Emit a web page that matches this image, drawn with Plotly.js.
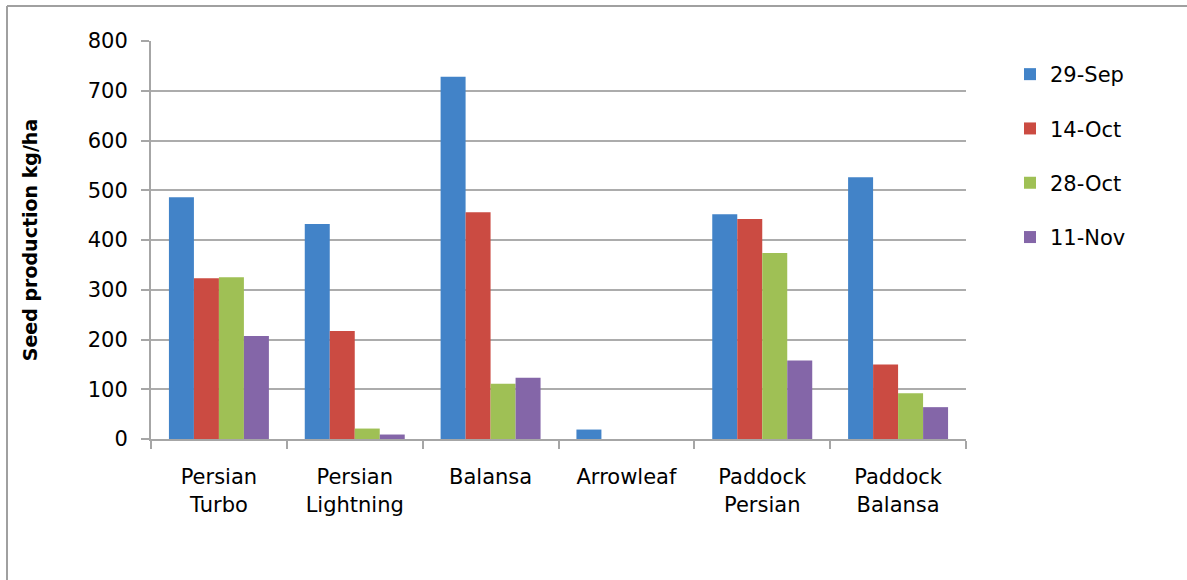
<!DOCTYPE html>
<html>
<head>
<meta charset="utf-8">
<script src="https://cdn.plot.ly/plotly-3.0.1.min.js"></script>
<style>
html,body{margin:0;padding:0;background:#fff;}
#chart{width:1187px;height:580px;}
</style>
</head>
<body>
<div id="chart"></div>
<script>
const categories = ["Persian<br>Turbo", "Persian<br>Lightning", "Balansa", "Arrowleaf", "Paddock<br>Persian", "Paddock<br>Balansa"];
const seriesNames = ["29-Sep", "14-Oct", "28-Oct", "11-Nov"];
const sep29 = [486, 432, 728, 19, 452, 526];
const oct14 = [323, 217, 456, 0, 442, 150];
const oct28 = [325, 21, 111, 0, 374, 92];
const nov11 = [207, 9, 123, 0, 158, 64];
const colors = ["#4283c8", "#cb4b42", "#9fc055", "#8466a8"];

const seriesValues = [sep29, oct14, oct28, nov11];
const traces = seriesValues.map((vals, i) => ({
  type: "bar",
  name: seriesNames[i],
  x: categories,
  y: vals,
  legendgroup: "g" + i,
  marker: {color: colors[i], line: {width: 0}},
  hoverinfo: "x+y+name"
}));

const fontFam = "'DejaVu Sans', 'Liberation Sans', sans-serif";
const L = 151, R = 221, T = 41, B = 141;
const PW = 1187 - L - R, PH = 580 - T - B;
const layout = {
  width: 1187,
  height: 580,
  margin: {l: L, r: R, t: T, b: B},
  paper_bgcolor: "#ffffff",
  plot_bgcolor: "#ffffff",
  barmode: "group",
  bargap: 0.264,
  bargroupgap: 0,
  font: {family: fontFam, size: 21, color: "#000000"},
  xaxis: {
    type: "category",
    showline: true,
    linecolor: "#a6a6a6",
    linewidth: 2,
    ticks: "outside",
    tickson: "boundaries",
    ticklen: 8,
    tickwidth: 2,
    tickcolor: "#a6a6a6",
    ticklabelstandoff: 18,
    tickfont: {family: fontFam, size: 21, color: "#000"},
    showgrid: false,
    fixedrange: true
  },
  yaxis: {
    range: [0, 800],
    dtick: 100,
    showline: true,
    linecolor: "#a6a6a6",
    linewidth: 2,
    ticks: "outside",
    ticklen: 8,
    tickwidth: 2,
    tickcolor: "#a6a6a6",
    ticklabelstandoff: 9,
    showgrid: true,
    gridcolor: "#acacac",
    gridwidth: 2,
    zeroline: false,
    tickfont: {family: fontFam, size: 21, color: "#000"},
    title: {text: "<b>Seed production kg/ha</b>", font: {family: fontFam, size: 19, color: "#000"}, standoff: 45},
    fixedrange: true
  },
  legend: {
    x: (1010 - L) / PW,
    y: (580 - B - 54) / PH,
    xanchor: "left",
    yanchor: "top",
    traceorder: "grouped",
    tracegroupgap: 24,
    font: {family: fontFam, size: 21, color: "#000"},
    itemwidth: 30,
    bgcolor: "rgba(0,0,0,0)"
  },
  shapes: [
    {type: "line", xref: "paper", yref: "paper", x0: (7 - L) / PW, x1: (1190 - L) / PW, y0: (580 - B - 6) / PH, y1: (580 - B - 6) / PH, line: {color: "#a0a0a0", width: 2}},
    {type: "line", xref: "paper", yref: "paper", x0: (7 - L) / PW, x1: (7 - L) / PW, y0: (580 - B - 6) / PH, y1: (580 - B - 585) / PH, line: {color: "#a0a0a0", width: 2}}
  ],
  showlegend: true
};

Plotly.newPlot("chart", traces, layout, {displayModeBar: false});
</script>
</body>
</html>
